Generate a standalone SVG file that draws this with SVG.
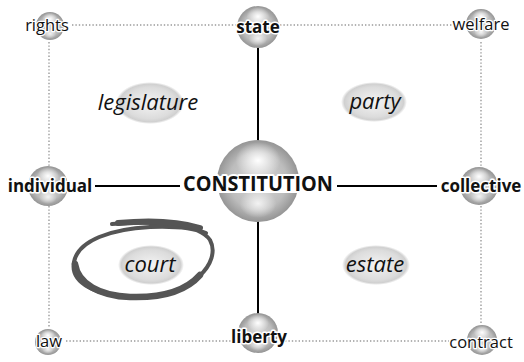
<svg xmlns="http://www.w3.org/2000/svg" width="524" height="362" viewBox="0 0 524 362">
<defs>
<radialGradient id="sph" cx="50%" cy="50%" r="50%">
<stop offset="0" stop-color="#dadada"/>
<stop offset="0.7" stop-color="#bcbcbc"/>
<stop offset="1" stop-color="#959595"/>
</radialGradient>
<radialGradient id="hiT" cx="50%" cy="50%" r="50%">
<stop offset="0" stop-color="#ffffff" stop-opacity="1"/>
<stop offset="1" stop-color="#ffffff" stop-opacity="0"/>
</radialGradient>
<radialGradient id="ell" cx="50%" cy="50%" r="50%">
<stop offset="0" stop-color="#f4f4f4"/>
<stop offset="0.75" stop-color="#dcdcdc"/>
<stop offset="0.9" stop-color="#d0d0d0"/>
<stop offset="1" stop-color="#ffffff"/>
</radialGradient>
<g id="ball">
<circle r="1" fill="url(#sph)"/>
<ellipse cx="0" cy="-0.5" rx="0.55" ry="0.45" fill="url(#hiT)"/>
<ellipse cx="0" cy="0.55" rx="0.45" ry="0.35" fill="url(#hiT)" opacity="0.8"/>
</g>
</defs>
<style>
.dot{stroke:#9a9a9a;stroke-width:1.4;stroke-dasharray:1.4 2;fill:none}
.sol{stroke:#000;stroke-width:2;fill:none}
text{font-family:"Open Sans","DejaVu Sans",sans-serif;fill:#111;paint-order:stroke;stroke:#fff;stroke-linejoin:round}
.sm{font-size:16.5px;stroke-width:2.5;text-anchor:middle}
.bd{font-size:17px;font-weight:bold;stroke-width:3;text-anchor:middle}
.it{font-size:22px;font-style:italic;stroke:none;text-anchor:middle}
.big{font-size:22px;font-weight:bold;stroke-width:4;text-anchor:middle}
</style>
<rect width="524" height="362" fill="#fff"/>
<g id="connectors">
<line class="dot" x1="72" y1="25" x2="237" y2="25"/>
<line class="dot" x1="280" y1="25" x2="452" y2="25"/>
<line class="dot" x1="66" y1="341" x2="234" y2="341"/>
<line class="dot" x1="285" y1="341" x2="449" y2="341"/>
<line class="dot" x1="49" y1="42" x2="49" y2="166"/>
<line class="dot" x1="49" y1="206" x2="49" y2="328"/>
<line class="dot" x1="481" y1="42" x2="481" y2="166"/>
<line class="dot" x1="481" y1="206" x2="481" y2="325"/>
<line class="sol" x1="95" y1="186" x2="180" y2="186"/>
<line class="sol" x1="337" y1="186" x2="437" y2="186"/>
<line class="sol" x1="258" y1="48" x2="258" y2="141"/>
<line class="sol" x1="258" y1="221" x2="258" y2="316"/>
</g>
<g id="rights"><use href="#ball" transform="translate(50,26) scale(14)"/><text class="sm" x="47" y="31">rights</text></g>
<g id="state"><use href="#ball" transform="translate(258,27) scale(21)"/><text class="bd" x="258" y="33">state</text></g>
<g id="welfare"><use href="#ball" transform="translate(481,24) scale(15)"/><text class="sm" x="481" y="30">welfare</text></g>
<g id="individual"><use href="#ball" transform="translate(48,186) scale(20)"/><text class="bd" x="50" y="192">individual</text></g>
<g id="constitution"><use href="#ball" transform="translate(258,181) scale(41)"/><rect x="215" y="176" width="86" height="17" fill="#fff"/><text class="big" x="258" y="191" textLength="150" lengthAdjust="spacingAndGlyphs">CONSTITUTION</text></g>
<g id="collective"><use href="#ball" transform="translate(479,186) scale(19)"/><text class="bd" x="481" y="192">collective</text></g>
<g id="law"><use href="#ball" transform="translate(48,342) scale(13)"/><text class="sm" x="49" y="347">law</text></g>
<g id="liberty"><use href="#ball" transform="translate(258,333) scale(20)"/><text class="bd" x="259" y="343">liberty</text></g>
<g id="contract"><use href="#ball" transform="translate(482,340) scale(15)"/><text class="sm" x="481" y="348">contract</text></g>
<g id="legislature"><ellipse cx="150" cy="103" rx="34" ry="21" fill="url(#ell)"/><text class="it" x="148" y="110">legislature</text></g>
<g id="party"><ellipse cx="374" cy="102" rx="33" ry="20" fill="url(#ell)"/><text class="it" x="375" y="109">party</text></g>
<g id="court"><ellipse cx="151" cy="265" rx="33" ry="20" fill="url(#ell)"/><text class="it" x="150" y="272">court</text>
<path d="M 112 224 C 160 220, 200 225, 210 240 C 222 262, 192 296, 140 297 C 95 298, 70 282, 74 262 C 78 240, 112 229, 150 227 C 175 226, 194 228, 206 233" fill="none" stroke="#555" stroke-width="4" stroke-linecap="round"/>
<path d="M 118 223 C 150 220, 180 222, 200 228" fill="none" stroke="#555" stroke-width="6" stroke-linecap="round"/>
<path d="M 200 275 C 185 292, 160 298, 130 297 C 100 296, 78 284, 75 264" fill="none" stroke="#555" stroke-width="6.5" stroke-linecap="round"/>
</g>
<g id="estate"><ellipse cx="376" cy="265" rx="34" ry="20" fill="url(#ell)"/><text class="it" x="375" y="272">estate</text></g>
</svg>
